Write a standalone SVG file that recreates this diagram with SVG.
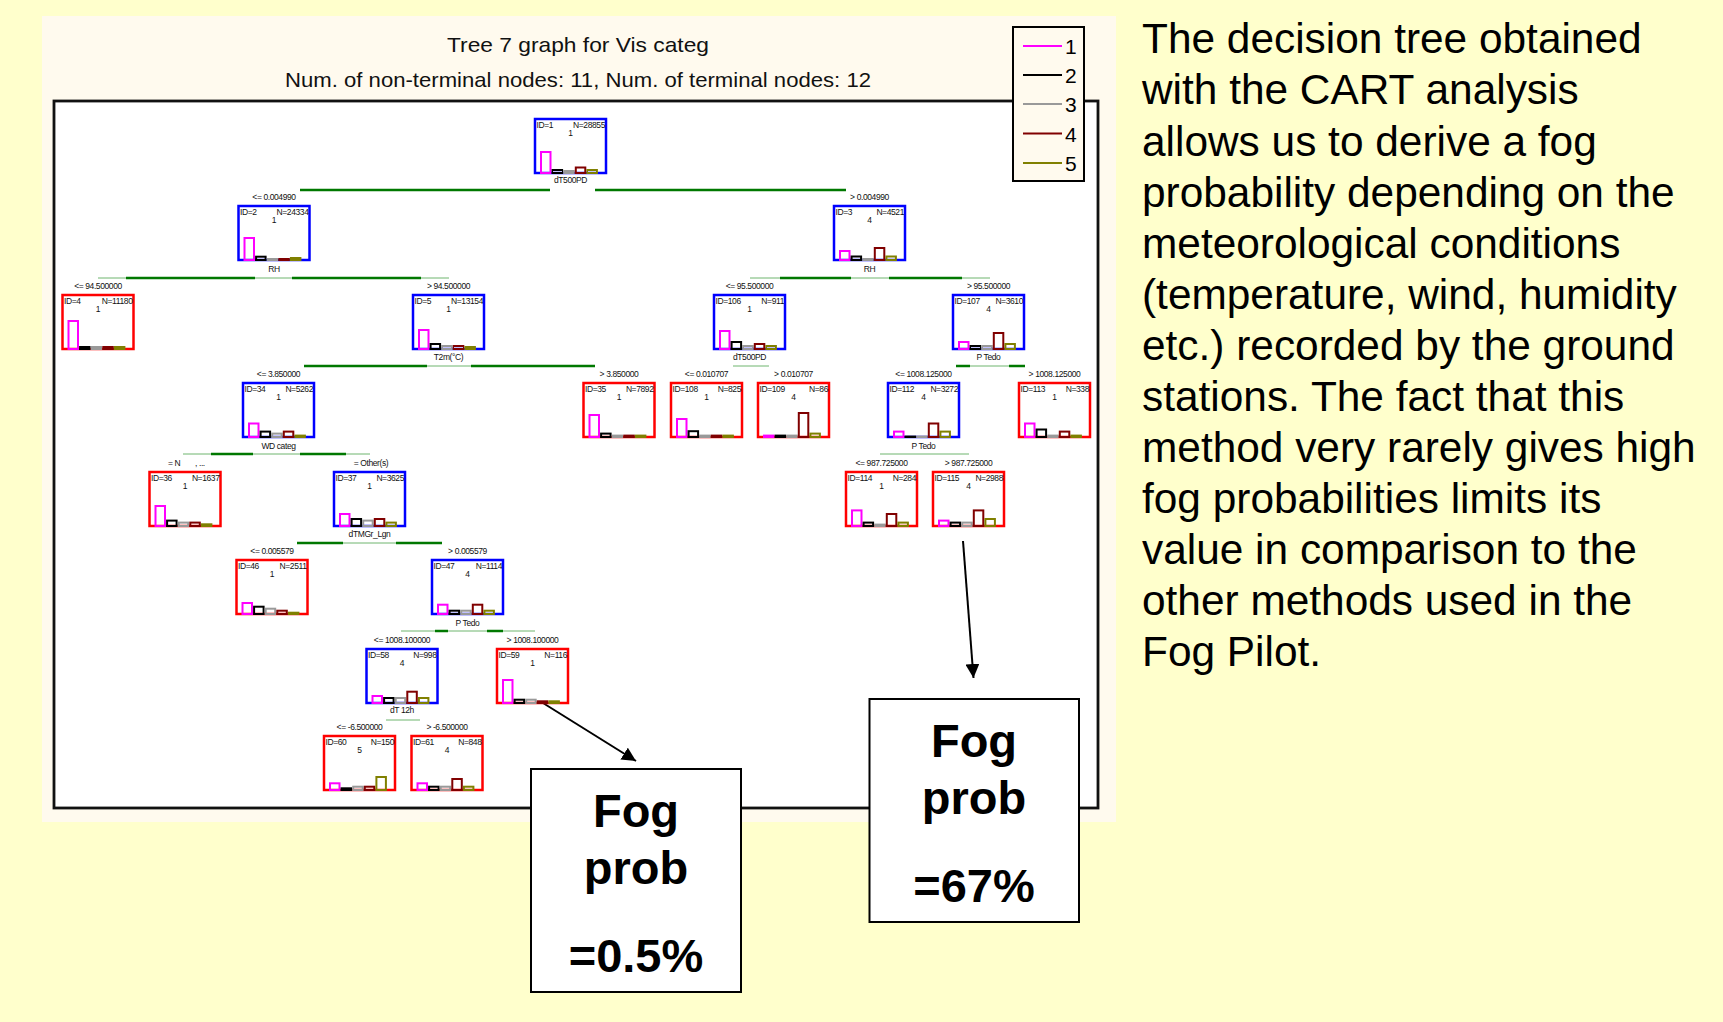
<svg xmlns="http://www.w3.org/2000/svg" width="1723" height="1022" viewBox="0 0 1723 1022">
<defs>
<style>
.s{font-family:"Liberation Sans",Arial,sans-serif;font-size:8.5px;fill:#111;letter-spacing:-0.4px}
.m{text-anchor:middle}
.e{text-anchor:end}
.bb{fill:#fff;stroke:#0000ff;stroke-width:2.5}
.br{fill:#fff;stroke:#ff0000;stroke-width:2.5}
.b1,.b2,.b3,.b4,.b5{fill:none;stroke-width:2}
.b1{stroke:#ff00ff}.b2{stroke:#000}.b3{stroke:#999}.b4{stroke:#800000}.b5{stroke:#808000}
.tk{stroke:#007800;stroke-width:2.5;fill:none}
.tn{stroke:#6fb56f;stroke-width:1;fill:none}
.fog{font-family:"Liberation Sans",Arial,sans-serif;font-weight:bold;font-size:47px;text-anchor:middle;fill:#000}
.fb{fill:#fff;stroke:#000;stroke-width:2}
.ar{stroke:#000;stroke-width:2;fill:none}
</style>
<marker id="ah" viewBox="0 0 14 14" refX="14" refY="7" markerWidth="14" markerHeight="14" markerUnits="userSpaceOnUse" orient="auto"><path d="M0,0 L14,7 L0,14 z" fill="#000"/></marker>
</defs>
<rect x="0" y="0" width="1723" height="1022" fill="#ffffcc"/>
<rect x="42" y="16" width="1074" height="806" fill="#fffaee"/>
<rect id="frame" x="54" y="101" width="1044" height="707" fill="#fff" stroke="#111" stroke-width="2.8"/>
<text x="578" y="52" font-family="Liberation Sans, Arial, sans-serif" font-size="21" text-anchor="middle" fill="#111" textLength="262" lengthAdjust="spacingAndGlyphs">Tree 7 graph for Vis categ</text>
<text x="578" y="87" font-family="Liberation Sans, Arial, sans-serif" font-size="21" text-anchor="middle" fill="#111" textLength="586" lengthAdjust="spacingAndGlyphs">Num. of non-terminal nodes: 11,  Num. of terminal nodes: 12</text>
<g id="legend">
<rect x="1013" y="27" width="71" height="154" fill="#fffaee" stroke="#000" stroke-width="2"/>
<g stroke-width="2">
<line x1="1023" y1="46" x2="1062" y2="46" stroke="#ff00ff"/>
<line x1="1023" y1="75" x2="1062" y2="75" stroke="#000"/>
<line x1="1023" y1="104" x2="1062" y2="104" stroke="#999"/>
<line x1="1023" y1="133.5" x2="1062" y2="133.5" stroke="#800000"/>
<line x1="1023" y1="163" x2="1062" y2="163" stroke="#808000"/>
</g>
<g font-family="Liberation Sans, Arial, sans-serif" font-size="21" fill="#000">
<text x="1065" y="54">1</text><text x="1065" y="83">2</text><text x="1065" y="112">3</text><text x="1065" y="141.5">4</text><text x="1065" y="171">5</text>
</g>
</g>
<g id="connectors">
<line class="tk" x1="300" y1="190" x2="550" y2="190"/><line class="tk" x1="595" y1="190" x2="846" y2="190"/>
<line class="tn" x1="98" y1="278" x2="449" y2="278"/><line class="tk" x1="126" y1="278" x2="255" y2="278"/><line class="tk" x1="292" y1="278" x2="421" y2="278"/>
<line class="tn" x1="750" y1="278" x2="990" y2="278"/><line class="tk" x1="780" y1="278" x2="851" y2="278"/><line class="tk" x1="889" y1="278" x2="962" y2="278"/>
<line class="tn" x1="304" y1="366" x2="595" y2="366"/><line class="tk" x1="304" y1="366" x2="427" y2="366"/><line class="tk" x1="471" y1="366" x2="595" y2="366"/>
<line class="tn" x1="733" y1="366" x2="769" y2="366"/>
<line class="tn" x1="956" y1="366" x2="1025" y2="366"/><line class="tk" x1="956" y1="366" x2="970" y2="366"/><line class="tk" x1="1009" y1="366" x2="1025" y2="366"/>
<line class="tn" x1="183" y1="454" x2="370" y2="454"/><line class="tk" x1="211" y1="454" x2="253" y2="454"/><line class="tk" x1="300" y1="454" x2="346" y2="454"/>
<line class="tn" x1="880" y1="454" x2="969" y2="454"/>
<line class="tn" x1="297" y1="543" x2="442" y2="543"/><line class="tk" x1="297" y1="543" x2="343" y2="543"/><line class="tk" x1="396" y1="543" x2="442" y2="543"/>
<line class="tn" x1="401" y1="631" x2="535" y2="631"/><line class="tk" x1="435" y1="631" x2="448" y2="631"/><line class="tk" x1="487" y1="631" x2="503" y2="631"/>
<line class="tn" x1="386" y1="720" x2="420" y2="720"/>
<text class="s m" x="274" y="199.5">&lt;= 0.004990</text><text class="s m" x="869.5" y="199.5">&gt; 0.004990</text>
<text class="s m" x="98" y="288.5">&lt;= 94.500000</text><text class="s m" x="448.5" y="288.5">&gt; 94.500000</text>
<text class="s m" x="749.5" y="288.5">&lt;= 95.500000</text><text class="s m" x="988.5" y="288.5">&gt; 95.500000</text>
<text class="s m" x="278.5" y="376.5">&lt;= 3.850000</text><text class="s m" x="619" y="376.5">&gt; 3.850000</text>
<text class="s m" x="706.5" y="376.5">&lt;= 0.010707</text><text class="s m" x="793.5" y="376.5">&gt; 0.010707</text>
<text class="s m" x="923.5" y="376.5">&lt;= 1008.125000</text><text class="s m" x="1054.5" y="376.5">&gt; 1008.125000</text>
<text class="s" x="168" y="465.5">= N<tspan x="195">, ...</tspan></text><text class="s m" x="371" y="465.5">= Other(s)</text>
<text class="s m" x="881.5" y="465.5">&lt;= 987.725000</text><text class="s m" x="968.5" y="465.5">&gt; 987.725000</text>
<text class="s m" x="272" y="553.5">&lt;= 0.005579</text><text class="s m" x="467.5" y="553.5">&gt; 0.005579</text>
<text class="s m" x="402" y="642.5">&lt;= 1008.100000</text><text class="s m" x="532.5" y="642.5">&gt; 1008.100000</text>
<text class="s m" x="359.5" y="729.5">&lt;= -6.500000</text><text class="s m" x="447" y="729.5">&gt; -6.500000</text>
<line class="ar" x1="543" y1="703" x2="636" y2="761" marker-end="url(#ah)"/>
<line class="ar" x1="963" y1="541" x2="973.5" y2="678" marker-end="url(#ah)"/>
</g>
<g id="node-1" transform="translate(535,119)"><rect class="bb" width="71" height="54"/><text class="s" x="1.5" y="8.5">ID=1</text><text class="s e" x="70" y="8.5">N=28855</text><text class="s m" x="35.5" y="17">1</text><rect class="b1" x="6" y="33" width="9.5" height="21"/><rect class="b2" x="17.6" y="51" width="9.5" height="3"/><rect class="b3" x="29.2" y="52" width="9.5" height="2"/><rect class="b4" x="40.8" y="48.5" width="9.5" height="5.5"/><rect class="b5" x="52.4" y="51" width="9.5" height="3"/><text class="s m" x="35.5" y="64">dT500PD</text></g>
<g id="node-2" transform="translate(238.5,206)"><rect class="bb" width="71" height="54"/><text class="s" x="1.5" y="8.5">ID=2</text><text class="s e" x="70" y="8.5">N=24334</text><text class="s m" x="35.5" y="17">1</text><rect class="b1" x="6" y="32" width="9.5" height="22"/><rect class="b2" x="17.6" y="50.7" width="9.5" height="3.3"/><rect class="b3" x="29.2" y="53" width="9.5" height="1"/><rect class="b4" x="40.8" y="53" width="9.5" height="1"/><rect class="b5" x="52.4" y="52" width="9.5" height="2"/><text class="s m" x="35.5" y="66">RH</text></g>
<g id="node-3" transform="translate(834,206)"><rect class="bb" width="71" height="54"/><text class="s" x="1.5" y="8.5">ID=3</text><text class="s e" x="70" y="8.5">N=4521</text><text class="s m" x="35.5" y="17">4</text><rect class="b1" x="6" y="45" width="9.5" height="9"/><rect class="b2" x="17.6" y="50.5" width="9.5" height="3.5"/><rect class="b3" x="29.2" y="53" width="9.5" height="1"/><rect class="b4" x="40.8" y="42" width="9.5" height="12"/><rect class="b5" x="52.4" y="50.5" width="9.5" height="3.5"/><text class="s m" x="35.5" y="66">RH</text></g>
<g id="node-4" transform="translate(62.5,295)"><rect class="br" width="71" height="54"/><text class="s" x="1.5" y="8.5">ID=4</text><text class="s e" x="70" y="8.5">N=11180</text><text class="s m" x="35.5" y="17">1</text><rect class="b1" x="6" y="26" width="9.5" height="28"/><rect class="b2" x="17.6" y="52" width="9.5" height="2"/><rect class="b3" x="29.2" y="52" width="9.5" height="2"/><rect class="b4" x="40.8" y="52" width="9.5" height="2"/><rect class="b5" x="52.4" y="52" width="9.5" height="2"/></g>
<g id="node-5" transform="translate(413,295)"><rect class="bb" width="71" height="54"/><text class="s" x="1.5" y="8.5">ID=5</text><text class="s e" x="70" y="8.5">N=13154</text><text class="s m" x="35.5" y="17">1</text><rect class="b1" x="6" y="35" width="9.5" height="19"/><rect class="b2" x="17.6" y="49" width="9.5" height="5"/><rect class="b3" x="29.2" y="51" width="9.5" height="3"/><rect class="b4" x="40.8" y="51" width="9.5" height="3"/><rect class="b5" x="52.4" y="52" width="9.5" height="2"/><text class="s m" x="35.5" y="65">T2m(°C)</text></g>
<g id="node-106" transform="translate(714,295)"><rect class="bb" width="71" height="54"/><text class="s" x="1.5" y="8.5">ID=106</text><text class="s e" x="70" y="8.5">N=911</text><text class="s m" x="35.5" y="17">1</text><rect class="b1" x="6" y="36" width="9.5" height="18"/><rect class="b2" x="17.6" y="47" width="9.5" height="7"/><rect class="b3" x="29.2" y="51" width="9.5" height="3"/><rect class="b4" x="40.8" y="49" width="9.5" height="5"/><rect class="b5" x="52.4" y="51" width="9.5" height="3"/><text class="s m" x="35.5" y="65">dT500PD</text></g>
<g id="node-107" transform="translate(953,295)"><rect class="bb" width="71" height="54"/><text class="s" x="1.5" y="8.5">ID=107</text><text class="s e" x="70" y="8.5">N=3610</text><text class="s m" x="35.5" y="17">4</text><rect class="b1" x="6" y="47" width="9.5" height="7"/><rect class="b2" x="17.6" y="51" width="9.5" height="3"/><rect class="b3" x="29.2" y="51" width="9.5" height="3"/><rect class="b4" x="40.8" y="38" width="9.5" height="16"/><rect class="b5" x="52.4" y="49" width="9.5" height="5"/><text class="s m" x="35.5" y="65">P Tedo</text></g>
<g id="node-34" transform="translate(243,383)"><rect class="bb" width="71" height="54"/><text class="s" x="1.5" y="8.5">ID=34</text><text class="s e" x="70" y="8.5">N=5262</text><text class="s m" x="35.5" y="17">1</text><rect class="b1" x="6" y="40.5" width="9.5" height="13.5"/><rect class="b2" x="17.6" y="48.6" width="9.5" height="5.4"/><rect class="b3" x="29.2" y="50.6" width="9.5" height="3.4"/><rect class="b4" x="40.8" y="48.6" width="9.5" height="5.4"/><rect class="b5" x="52.4" y="52.6" width="9.5" height="1.4"/><text class="s m" x="35.5" y="66">WD categ</text></g>
<g id="node-35" transform="translate(583.5,383)"><rect class="br" width="71" height="54"/><text class="s" x="1.5" y="8.5">ID=35</text><text class="s e" x="70" y="8.5">N=7892</text><text class="s m" x="35.5" y="17">1</text><rect class="b1" x="6" y="32" width="9.5" height="22"/><rect class="b2" x="17.6" y="50.6" width="9.5" height="3.4"/><rect class="b3" x="29.2" y="52.6" width="9.5" height="1.4"/><rect class="b4" x="40.8" y="52.6" width="9.5" height="1.4"/><rect class="b5" x="52.4" y="52.6" width="9.5" height="1.4"/></g>
<g id="node-108" transform="translate(671,383)"><rect class="br" width="71" height="54"/><text class="s" x="1.5" y="8.5">ID=108</text><text class="s e" x="70" y="8.5">N=825</text><text class="s m" x="35.5" y="17">1</text><rect class="b1" x="6" y="36" width="9.5" height="18"/><rect class="b2" x="17.6" y="48.2" width="9.5" height="5.8"/><rect class="b3" x="29.2" y="52.6" width="9.5" height="1.4"/><rect class="b4" x="40.8" y="52.6" width="9.5" height="1.4"/><rect class="b5" x="52.4" y="52.6" width="9.5" height="1.4"/></g>
<g id="node-109" transform="translate(758,383)"><rect class="br" width="71" height="54"/><text class="s" x="1.5" y="8.5">ID=109</text><text class="s e" x="70" y="8.5">N=86</text><text class="s m" x="35.5" y="17">4</text><rect class="b1" x="6" y="52.6" width="9.5" height="1.4"/><rect class="b2" x="17.6" y="52.6" width="9.5" height="1.4"/><rect class="b3" x="29.2" y="52.6" width="9.5" height="1.4"/><rect class="b4" x="40.8" y="30" width="9.5" height="24"/><rect class="b5" x="52.4" y="50.6" width="9.5" height="3.4"/></g>
<g id="node-112" transform="translate(888,383)"><rect class="bb" width="71" height="54"/><text class="s" x="1.5" y="8.5">ID=112</text><text class="s e" x="70" y="8.5">N=3272</text><text class="s m" x="35.5" y="17">4</text><rect class="b1" x="6" y="48.6" width="9.5" height="5.4"/><rect class="b2" x="17.6" y="53.6" width="9.5" height="0.4" stroke-width="1"/><rect class="b3" x="29.2" y="53.6" width="9.5" height="0.4" stroke-width="1"/><rect class="b4" x="40.8" y="40.5" width="9.5" height="13.5"/><rect class="b5" x="52.4" y="48.6" width="9.5" height="5.4"/><text class="s m" x="35.5" y="66">P Tedo</text></g>
<g id="node-113" transform="translate(1019,383)"><rect class="br" width="71" height="54"/><text class="s" x="1.5" y="8.5">ID=113</text><text class="s e" x="70" y="8.5">N=338</text><text class="s m" x="35.5" y="17">1</text><rect class="b1" x="6" y="40.5" width="9.5" height="13.5"/><rect class="b2" x="17.6" y="46.5" width="9.5" height="7.5"/><rect class="b3" x="29.2" y="52.6" width="9.5" height="1.4"/><rect class="b4" x="40.8" y="48.6" width="9.5" height="5.4"/><rect class="b5" x="52.4" y="52.6" width="9.5" height="1.4"/></g>
<g id="node-36" transform="translate(149.5,472)"><rect class="br" width="71" height="54"/><text class="s" x="1.5" y="8.5">ID=36</text><text class="s e" x="70" y="8.5">N=1637</text><text class="s m" x="35.5" y="17">1</text><rect class="b1" x="6" y="34" width="9.5" height="20"/><rect class="b2" x="17.6" y="48.6" width="9.5" height="5.4"/><rect class="b3" x="29.2" y="50.6" width="9.5" height="3.4"/><rect class="b4" x="40.8" y="50.6" width="9.5" height="3.4"/><rect class="b5" x="52.4" y="52.3" width="9.5" height="1.7"/></g>
<g id="node-37" transform="translate(334,472)"><rect class="bb" width="71" height="54"/><text class="s" x="1.5" y="8.5">ID=37</text><text class="s e" x="70" y="8.5">N=3625</text><text class="s m" x="35.5" y="17">1</text><rect class="b1" x="6" y="42" width="9.5" height="12"/><rect class="b2" x="17.6" y="47" width="9.5" height="7"/><rect class="b3" x="29.2" y="48.6" width="9.5" height="5.4"/><rect class="b4" x="40.8" y="47" width="9.5" height="7"/><rect class="b5" x="52.4" y="50.6" width="9.5" height="3.4"/><text class="s m" x="35.5" y="65">dTMGr_Lgn</text></g>
<g id="node-114" transform="translate(846,472)"><rect class="br" width="71" height="54"/><text class="s" x="1.5" y="8.5">ID=114</text><text class="s e" x="70" y="8.5">N=284</text><text class="s m" x="35.5" y="17">1</text><rect class="b1" x="6" y="38.4" width="9.5" height="15.6"/><rect class="b2" x="17.6" y="50.6" width="9.5" height="3.4"/><rect class="b3" x="29.2" y="52.6" width="9.5" height="1.4"/><rect class="b4" x="40.8" y="42" width="9.5" height="12"/><rect class="b5" x="52.4" y="50.6" width="9.5" height="3.4"/></g>
<g id="node-115" transform="translate(933,472)"><rect class="br" width="71" height="54"/><text class="s" x="1.5" y="8.5">ID=115</text><text class="s e" x="70" y="8.5">N=2988</text><text class="s m" x="35.5" y="17">4</text><rect class="b1" x="6" y="48.6" width="9.5" height="5.4"/><rect class="b2" x="17.6" y="50.6" width="9.5" height="3.4"/><rect class="b3" x="29.2" y="50.6" width="9.5" height="3.4"/><rect class="b4" x="40.8" y="38.4" width="9.5" height="15.6"/><rect class="b5" x="52.4" y="47" width="9.5" height="7"/></g>
<g id="node-46" transform="translate(236.5,560)"><rect class="br" width="71" height="54"/><text class="s" x="1.5" y="8.5">ID=46</text><text class="s e" x="70" y="8.5">N=2511</text><text class="s m" x="35.5" y="17">1</text><rect class="b1" x="6" y="43" width="9.5" height="11"/><rect class="b2" x="17.6" y="46.7" width="9.5" height="7.3"/><rect class="b3" x="29.2" y="48.7" width="9.5" height="5.3"/><rect class="b4" x="40.8" y="50.7" width="9.5" height="3.3"/><rect class="b5" x="52.4" y="52.7" width="9.5" height="1.3"/></g>
<g id="node-47" transform="translate(432,560)"><rect class="bb" width="71" height="54"/><text class="s" x="1.5" y="8.5">ID=47</text><text class="s e" x="70" y="8.5">N=1114</text><text class="s m" x="35.5" y="17">4</text><rect class="b1" x="6" y="44.7" width="9.5" height="9.3"/><rect class="b2" x="17.6" y="50.7" width="9.5" height="3.3"/><rect class="b3" x="29.2" y="50.7" width="9.5" height="3.3"/><rect class="b4" x="40.8" y="44.7" width="9.5" height="9.3"/><rect class="b5" x="52.4" y="50.7" width="9.5" height="3.3"/><text class="s m" x="35.5" y="66">P Tedo</text></g>
<g id="node-58" transform="translate(366.5,649)"><rect class="bb" width="71" height="54"/><text class="s" x="1.5" y="8.5">ID=58</text><text class="s e" x="70" y="8.5">N=998</text><text class="s m" x="35.5" y="17">4</text><rect class="b1" x="6" y="47" width="9.5" height="7"/><rect class="b2" x="17.6" y="49" width="9.5" height="5"/><rect class="b3" x="29.2" y="49" width="9.5" height="5"/><rect class="b4" x="40.8" y="42.7" width="9.5" height="11.3"/><rect class="b5" x="52.4" y="49" width="9.5" height="5"/><text class="s m" x="35.5" y="64">dT 12h</text></g>
<g id="node-59" transform="translate(497,649)"><rect class="br" width="71" height="54"/><text class="s" x="1.5" y="8.5">ID=59</text><text class="s e" x="70" y="8.5">N=116</text><text class="s m" x="35.5" y="17">1</text><rect class="b1" x="6" y="31" width="9.5" height="23"/><rect class="b2" x="17.6" y="50.7" width="9.5" height="3.3"/><rect class="b3" x="29.2" y="50.7" width="9.5" height="3.3"/><rect class="b4" x="40.8" y="52.3" width="9.5" height="1.7"/><rect class="b5" x="52.4" y="52.3" width="9.5" height="1.7"/></g>
<g id="node-60" transform="translate(324,736)"><rect class="br" width="71" height="54"/><text class="s" x="1.5" y="8.5">ID=60</text><text class="s e" x="70" y="8.5">N=150</text><text class="s m" x="35.5" y="17">5</text><rect class="b1" x="6" y="47.3" width="9.5" height="6.7"/><rect class="b2" x="17.6" y="52.3" width="9.5" height="1.7"/><rect class="b3" x="29.2" y="50.7" width="9.5" height="3.3"/><rect class="b4" x="40.8" y="50.7" width="9.5" height="3.3"/><rect class="b5" x="52.4" y="41" width="9.5" height="13"/></g>
<g id="node-61" transform="translate(411.5,736)"><rect class="br" width="71" height="54"/><text class="s" x="1.5" y="8.5">ID=61</text><text class="s e" x="70" y="8.5">N=848</text><text class="s m" x="35.5" y="17">4</text><rect class="b1" x="6" y="47.3" width="9.5" height="6.7"/><rect class="b2" x="17.6" y="50.7" width="9.5" height="3.3"/><rect class="b3" x="29.2" y="50.7" width="9.5" height="3.3"/><rect class="b4" x="40.8" y="43" width="9.5" height="11"/><rect class="b5" x="52.4" y="50.7" width="9.5" height="3.3"/></g>
<g id="fog-low"><rect class="fb" x="531" y="769" width="210" height="223"/><text class="fog" x="636" y="827">Fog</text><text class="fog" x="636" y="884">prob</text><text class="fog" x="636" y="972">=0.5%</text></g>
<g id="fog-high"><rect class="fb" x="869.5" y="699" width="209.5" height="223"/><text class="fog" x="974" y="757">Fog</text><text class="fog" x="974" y="814">prob</text><text class="fog" x="974" y="902">=67%</text></g>
<text id="description" font-family="Liberation Sans, Arial, sans-serif" font-size="42.4" fill="#000"><tspan x="1142" y="53.4">The decision tree obtained</tspan><tspan x="1142" dy="51.05">with the CART analysis</tspan><tspan x="1142" dy="51.05">allows us to derive a fog</tspan><tspan x="1142" dy="51.05">probability depending on the</tspan><tspan x="1142" dy="51.05">meteorological conditions</tspan><tspan x="1142" dy="51.05">(temperature, wind, humidity</tspan><tspan x="1142" dy="51.05">etc.) recorded by the ground</tspan><tspan x="1142" dy="51.05">stations. The fact that this</tspan><tspan x="1142" dy="51.05">method very rarely gives high</tspan><tspan x="1142" dy="51.05">fog probabilities limits its</tspan><tspan x="1142" dy="51.05">value in comparison to the</tspan><tspan x="1142" dy="51.05">other methods used in the</tspan><tspan x="1142" dy="51.05">Fog Pilot.</tspan></text>
</svg>
